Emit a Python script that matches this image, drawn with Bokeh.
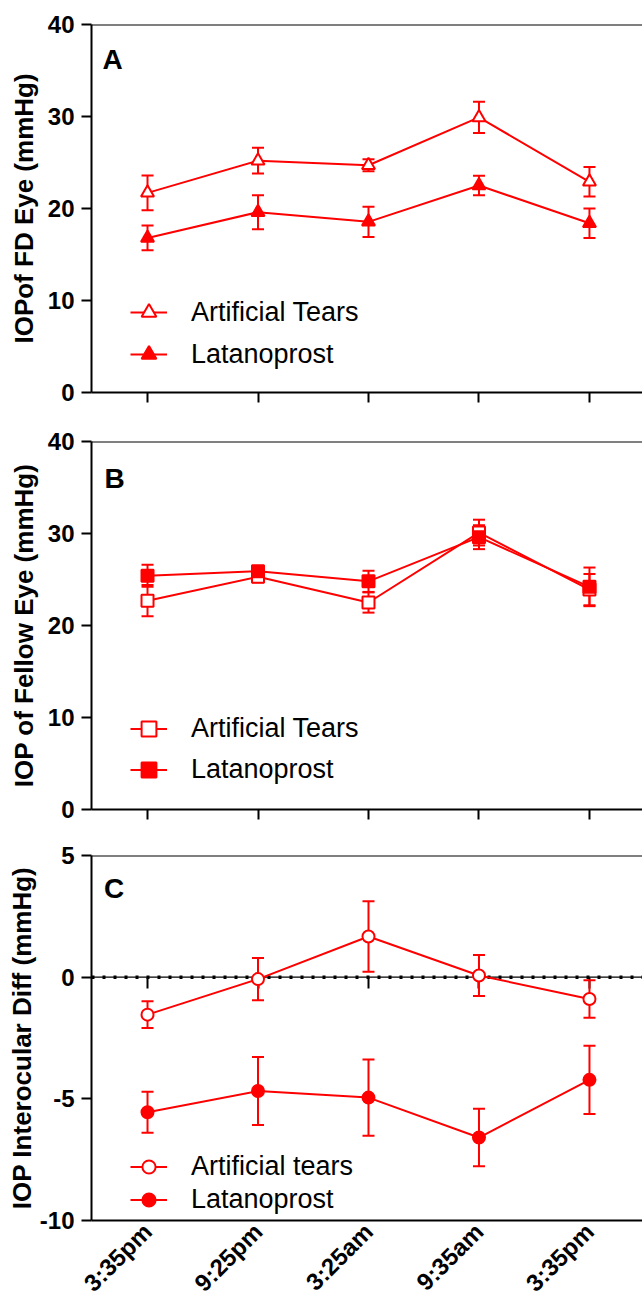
import math
from bokeh.plotting import figure
from bokeh.models import (Range1d, FixedTicker, Span, Whisker, ColumnDataSource,
                          Legend, LegendItem, Label, TeeHead, LinearAxis)
from bokeh.layouts import column
from bokeh.embed import file_html
from bokeh.resources import INLINE

# ---------------- data ----------------
times = ["3:35pm", "9:25pm", "3:25am", "9:35am", "3:35pm"]

a_tears = [21.7, 25.2, 24.7, 29.9, 22.9]
a_tears_err = [1.9, 1.4, 0.65, 1.7, 1.6]
a_lat = [16.8, 19.6, 18.55, 22.5, 18.4]
a_lat_err = [1.35, 1.85, 1.65, 1.05, 1.6]

b_tears = [22.7, 25.3, 22.5, 30.1, 23.9]
b_tears_err = [1.7, 0.6, 1.1, 1.4, 1.7]
b_lat = [25.4, 25.9, 24.8, 29.6, 24.2]
b_lat_err = [1.2, 0.5, 1.15, 1.3, 2.1]

c_tears = [-1.54, -0.08, 1.67, 0.07, -0.90]
c_tears_err = [0.55, 0.87, 1.45, 0.84, 0.77]
c_lat = [-5.55, -4.68, -4.95, -6.59, -4.22]
c_lat_err = [0.84, 1.40, 1.57, 1.18, 1.40]

yticks_ab = [0, 10, 20, 30, 40]
yticks_c = [-10, -5, 0, 5]

RED = "#ff0000"
FONT = "Liberation Sans"
xs = list(range(len(times)))


def panel(letter, letter_xy, ylabel, yticks, s1, e1, n1, s2, e2, n2, marker, msize,
          height, top, bottom, leg_bottom, row_h, ylab_standoff, last):
    p = figure(width=642, height=height,
               x_range=Range1d(-0.507, 4.48), y_range=Range1d(yticks[0], yticks[-1]),
               output_backend="svg", toolbar_location=None,
               min_border_left=91, min_border_right=0,
               min_border_top=top, min_border_bottom=bottom)
    p.outline_line_color = None
    p.grid.visible = False

    # y axis
    ya = p.yaxis[0]
    ya.ticker = FixedTicker(ticks=yticks)
    ya.major_label_overrides = {t: str(t) for t in yticks}
    ya.minor_tick_line_color = None
    ya.major_tick_out = 10
    ya.major_tick_in = 0
    ya.major_tick_line_width = 2
    ya.axis_line_width = 2
    ya.axis_line_color = "black"
    ya.major_tick_line_color = "black"
    ya.major_label_text_color = "black"
    ya.major_label_text_font = FONT
    ya.major_label_text_font_style = "bold"
    ya.major_label_text_font_size = "24px"
    ya.major_label_standoff = 7
    ya.axis_label = ylabel
    ya.axis_label_text_color = "black"
    ya.axis_label_text_font = FONT
    ya.axis_label_text_font_style = "bold"
    ya.axis_label_text_font_size = "26px"
    ya.axis_label_standoff = ylab_standoff

    # x axis
    xa = p.xaxis[0]
    xa.axis_line_width = 2
    xa.axis_line_color = "black"
    if not last:
        # category ticks only (no labels) on panels A and B
        xa.ticker = FixedTicker(ticks=[], minor_ticks=xs)
        xa.minor_tick_out = 10
        xa.minor_tick_in = 0
        xa.minor_tick_line_width = 2
        xa.minor_tick_line_color = "black"
    else:
        xa.ticker = FixedTicker(ticks=xs)
        xa.major_label_overrides = {i: t for i, t in enumerate(times)}
        xa.minor_tick_line_color = None
        xa.major_tick_line_color = None
        xa.major_tick_out = 0
        xa.major_tick_in = 0
        xa.major_label_text_color = "black"
        xa.major_label_text_font = FONT
        xa.major_label_text_font_style = "bold"
        xa.major_label_text_font_size = "24px"
        xa.major_label_orientation = math.pi / 4
        xa.major_label_standoff = 7
        # dotted zero line with category ticks
        p.add_layout(Span(location=0, dimension="width", line_color="black",
                          line_width=1.3, level="underlay"))
        p.add_layout(Span(location=0, dimension="width", line_color="black",
                          line_width=3.5, line_dash="3 8", level="underlay"))
        za = LinearAxis(fixed_location=0, ticker=FixedTicker(ticks=[], minor_ticks=xs),
                        axis_line_color=None, minor_tick_out=11, minor_tick_in=0,
                        minor_tick_line_width=2, minor_tick_line_color="black",
                        major_tick_line_color=None, level="underlay")
        p.add_layout(za, "below")

    # top border
    p.add_layout(Span(location=yticks[-1], dimension="width", line_color="black",
                      line_width=2))

    renderers = []
    for vals, errs, fill in ((s1, e1, "white"), (s2, e2, RED)):
        src = ColumnDataSource(dict(x=xs, y=vals,
                                    upper=[v + e for v, e in zip(vals, errs)],
                                    lower=[v - e for v, e in zip(vals, errs)]))
        w = Whisker(source=src, base="x", upper="upper", lower="lower",
                    dimension="height", line_color=RED, line_width=2, level="underlay",
                    upper_head=TeeHead(size=12, line_color=RED, line_width=2),
                    lower_head=TeeHead(size=12, line_color=RED, line_width=2))
        p.add_layout(w)
        ln = p.line("x", "y", source=src, line_color=RED, line_width=2)
        mk = p.scatter("x", "y", source=src, marker=marker, size=msize,
                       line_color=RED, line_width=2, fill_color=fill)
        renderers.append([ln, mk])

    leg = Legend(items=[LegendItem(label=n1, renderers=renderers[0]),
                        LegendItem(label=n2, renderers=renderers[1])],
                 location=(39, leg_bottom), padding=0, margin=0, spacing=0,
                 border_line_color=None, background_fill_alpha=0,
                 glyph_width=37, glyph_height=row_h, label_height=row_h,
                 label_standoff=24, label_text_font=FONT,
                 label_text_color="black", label_text_font_size="27px")
    p.add_layout(leg, "center")

    p.add_layout(Label(x=letter_xy[0], y=letter_xy[1], text=letter,
                       text_font=FONT, text_font_style="bold", text_color="black",
                       text_font_size="28px", text_baseline="alphabetic"))
    return p


pA = panel("A", (-0.407, 36.2), "IOPof FD Eye (mmHg)", yticks_ab,
           a_tears, a_tears_err, "Artificial Tears", a_lat, a_lat_err, "Latanoprost",
           "triangle", 13, 425, 24, 33, 17, 42, 6, False)
pB = panel("B", (-0.39, 35.98), "IOP of Fellow Eye (mmHg)", yticks_ab,
           b_tears, b_tears_err, "Artificial Tears", b_lat, b_lat_err, "Latanoprost",
           "square", 12, 417, 16, 33, 19, 41, 6, False)
pC = panel("C", (-0.393, 3.65), "IOP Interocular Diff (mmHg)", yticks_c,
           c_tears, c_tears_err, "Artificial tears", c_lat, c_lat_err, "Latanoprost",
           "circle", 12, 467, 13, 87, 4, 33, 0, True)

layout = column(pA, pB, pC, spacing=0)
open("out.html", "w").write(file_html(layout, INLINE))
